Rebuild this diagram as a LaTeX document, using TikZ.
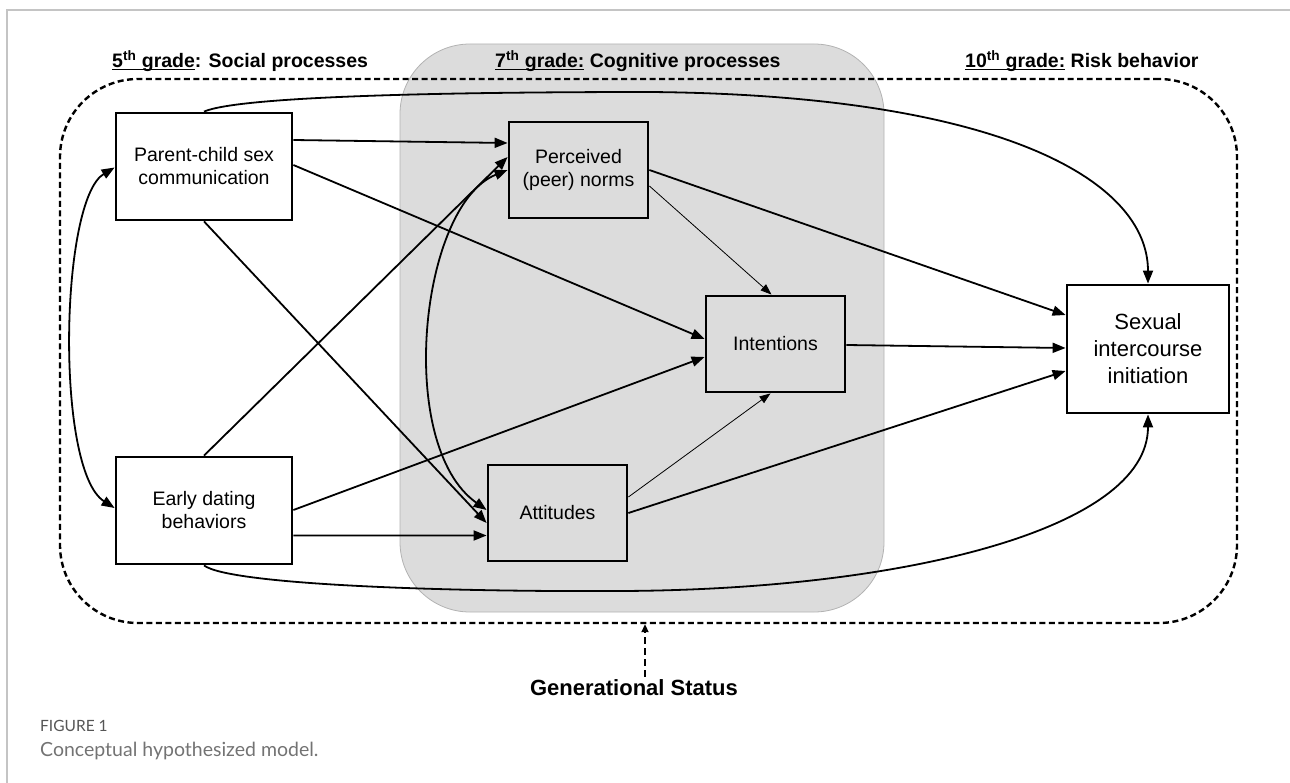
\documentclass[tikz,border=0pt]{standalone}
\usepackage{fontspec}
\setmainfont{Liberation Sans}
\newfontfamily\capfont{Lato}
\usetikzlibrary{arrows.meta,calc}
\definecolor{shade}{RGB}{220,220,220}
\definecolor{shadeline}{RGB}{178,178,178}
\definecolor{framegray}{RGB}{196,196,196}
\definecolor{capgray}{RGB}{85,85,85}
\definecolor{capgraylight}{RGB}{115,115,115}
\newcommand\myul[1]{\setbox0\hbox{#1}\rlap{\rule[-2.3bp]{\wd0}{1.3bp}}\box0\relax}
\begin{document}
\begin{tikzpicture}[x=1bp,y=-1bp,
  box/.style={draw,line width=2.8bp,align=center,inner sep=0,
    font=\fontsize{19.5bp}{23bp}\selectfont},
  conn/.style={line width=1.8bp,-{Triangle[length=13bp,width=10bp]}},
  thinarrow/.style={line width=0.8bp,-{Triangle[length=11bp,width=8bp]}},
  both/.style={line width=1.8bp,{Triangle[length=13bp,width=10bp]}-{Triangle[length=13bp,width=10bp]}},
  title/.style={font=\bfseries\fontsize{19.5bp}{23bp}\selectfont,anchor=base west,inner sep=0}]
\useasboundingbox (0,0) rectangle (1290,783);
% figure frame
\draw[framegray,line width=1.4bp] (7,783) -- (7,10) -- (1290,10);
% shaded region and dashed boundary
\node[fill=shade,draw=shadeline,line width=0.8bp,rounded corners=70bp,
  minimum width=484bp,minimum height=568bp] (region) at (642,328) {};
\node[draw,line width=2.4bp,dash pattern=on 6bp off 3.5bp,rounded corners=78bp,
  minimum width=1177bp,minimum height=544bp] (outer) at (648.5,351) {};
% titles
\node[title] (t5) at (112,68) {\myul{5\textsuperscript{th} grade}: Social processes};
\node[title] (t7) at (495,68) {\myul{7\textsuperscript{th} grade:} Cognitive processes};
\node[title] (t10) at (965,68) {\myul{10\textsuperscript{th} grade:} Risk behavior};
% boxes
\node[box,fill=white,minimum width=176bp,minimum height=107bp] (pc) at (204,166.5) {Parent-child sex\\communication};
\node[box,fill=white,minimum width=176bp,minimum height=107bp] (ed) at (204,510.5) {Early dating\\behaviors};
\node[box,minimum width=139bp,minimum height=96bp] (pn) at (578.5,170) {Perceived\\(peer) norms};
\node[box,minimum width=139bp,minimum height=96bp] (in) at (775.5,344) {Intentions};
\node[box,minimum width=139bp,minimum height=96bp] (at) at (557.5,513) {Attitudes};
\node[box,fill=white,minimum width=162bp,minimum height=128bp,
  font=\fontsize{22bp}{27bp}\selectfont] (sx) at (1148,349) {Sexual\\intercourse\\initiation};
% connectors
\draw[conn] (pc.north) .. controls (240,96) and (450,92) .. (650,92)
  .. controls (1000,95) and (1148,180) .. (sx.north);
\draw[conn] ([yshift=26.5bp]pc.east) -- ([yshift=27bp]pn.west);
\draw[conn] ([yshift=1.5bp]pc.east) -- ([yshift=5bp]in.west);
\draw[conn] (pc.south) -- ([yshift=-10bp]at.west);
\draw[conn] (ed.north) -- ([yshift=13bp]pn.west);
\draw[conn] ([yshift=0.5bp]ed.east) -- ([yshift=-13bp]in.west);
\draw[conn] ([yshift=-25bp]ed.east) -- ([yshift=-22.5bp]at.west);
\draw[conn] (ed.south) .. controls (230,585) and (450,592) .. (620,591)
  .. controls (900,590) and (1148,530) .. (sx.south);
\draw[conn] (pn.east) -- ([yshift=34bp]sx.west);
\draw[thinarrow] ([yshift=-16bp]pn.east) -- ([xshift=-4bp]in.north);
\draw[conn] ([yshift=-1bp]in.east) -- ([yshift=1bp]sx.west);
\draw[thinarrow] ([yshift=16bp]at.east) -- ([xshift=-5bp]in.south);
\draw[conn] (at.east) -- ([yshift=-22bp]sx.west);
\draw[both] ([yshift=-1bp]pc.west) .. controls (60,200) and (55,470) .. ([yshift=2.5bp]ed.west);
\draw[both] (pn.west) .. controls (420,205) and (395,445) .. ([yshift=3bp]at.west);
% generational status
\node[font=\bfseries\fontsize{22bp}{26bp}\selectfont,inner sep=0] (gs) at (634,688) {Generational Status};
\draw[line width=2.2bp,dash pattern=on 7bp off 4bp,-{Triangle[length=8bp,width=7bp]}]
  ([xshift=11bp,yshift=3bp]gs.north) -- ([xshift=11bp]gs.north |- outer.south);
% caption
\node[anchor=base west,inner sep=0,text=capgray,font=\capfont\fontsize{15.5bp}{18bp}\selectfont] (fig) at (40,731) {FIGURE 1};
\node[anchor=base west,inner sep=0,text=capgraylight,font=\capfont\fontsize{19.5bp}{23bp}\selectfont] (cap) at (40,756) {Conceptual hypothesized model.};
\end{tikzpicture}
\end{document}
